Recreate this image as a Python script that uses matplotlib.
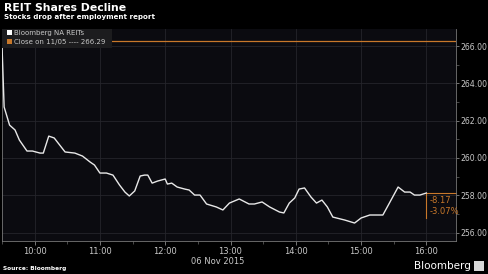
import matplotlib.pyplot as plt
from matplotlib.ticker import MultipleLocator, FixedLocator
from matplotlib.patches import Rectangle

# Intraday readings, 06 Nov 2015
times = ['09:30', '09:32', '09:37', '09:42', '09:46', '09:53', '09:58', '10:05',
         '10:08', '10:13', '10:18', '10:28', '10:37', '10:44', '10:51', '10:55',
         '11:00', '11:06', '11:12', '11:18', '11:23', '11:27', '11:32', '11:37',
         '11:41', '11:44', '11:48', '11:53', '12:00', '12:02', '12:06', '12:11',
         '12:18', '12:22', '12:27', '12:32', '12:38', '12:47', '12:53', '12:59',
         '13:08', '13:17', '13:22', '13:29', '13:36', '13:45', '13:49', '13:54',
         '13:59', '14:03', '14:08', '14:14', '14:19', '14:24', '14:29', '14:34',
         '14:45', '14:54', '15:00', '15:08', '15:20', '15:26', '15:34', '15:40',
         '15:45', '15:49', '15:54', '16:00']
values = [266.10, 262.73, 261.76, 261.50, 260.96, 260.37, 260.37, 260.26,
          260.26, 261.17, 261.07, 260.32, 260.26, 260.10, 259.78, 259.62,
          259.19, 259.19, 259.08, 258.55, 258.17, 257.96, 258.23, 259.03,
          259.08, 259.08, 258.65, 258.76, 258.87, 258.60, 258.65, 258.44,
          258.33, 258.28, 258.01, 258.01, 257.53, 257.37, 257.21, 257.58,
          257.80, 257.53, 257.53, 257.64, 257.37, 257.10, 257.05, 257.58,
          257.85, 258.33, 258.39, 257.90, 257.58, 257.74, 257.37, 256.83,
          256.67, 256.51, 256.78, 256.94, 256.94, 257.58, 258.44, 258.17,
          258.17, 258.01, 258.01, 258.12]
prev_close = 266.29
hour_labels = ['10:00', '11:00', '12:00', '13:00', '14:00', '15:00', '16:00']


def to_minutes(t):
    # minutes after the 09:30 open
    h, m = t.split(':')
    return (int(h) - 9) * 60 + int(m) - 30


x = [to_minutes(t) for t in times]
hour_pos = [to_minutes(t) for t in hour_labels]
last = values[-1]
change = last - prev_close
pct = change / prev_close * 100

orange = '#c8782a'
grey = '#c8c8c8'

fig = plt.figure(figsize=(4.88, 2.74), dpi=100, facecolor='black')
ax = fig.add_axes([0.004, 0.120, 0.930, 0.774])
ax.set_facecolor('#0b0b10')

ax.plot(x, values, color='#e8e8e8', lw=1.0, zorder=3)
ax.axhline(prev_close, color=orange, lw=0.9, zorder=2)

ax.set_xlim(0, 417)
ax.set_ylim(255.54, 266.91)

# ticks
ax.xaxis.set_major_locator(FixedLocator(hour_pos))
ax.set_xticklabels(hour_labels)
ax.xaxis.set_minor_locator(MultipleLocator(30))
ax.yaxis.set_major_locator(MultipleLocator(2))
ax.yaxis.set_minor_locator(MultipleLocator(1))
ax.yaxis.tick_right()
ax.yaxis.set_major_formatter(lambda v, p: '%.2f' % v)
ax.tick_params(axis='both', colors='#888888', labelcolor=grey, labelsize=6,
               length=3, width=0.6, pad=1)
ax.tick_params(axis='y', labelsize=5.6, length=2.5, pad=0.8)
ax.tick_params(axis='both', which='minor', colors='#666666', length=2, width=0.5)

ax.grid(True, which='major', color='#25252b', lw=0.6)
ax.spines['top'].set_visible(False)
for s in ['left', 'right', 'bottom']:
    ax.spines[s].set_color('#777777')
    ax.spines[s].set_linewidth(0.6)

# last value tag
ax.plot([390, 390, 417], [last - 1.35, last, last], color=orange, lw=0.8,
        zorder=2, clip_on=False)
ax.text(392.5, last - 0.15, '%.2f' % change, color=orange, fontsize=6,
        va='top', ha='left')
ax.text(392.5, last - 0.75, '%.2f%%' % pct, color=orange, fontsize=6,
        va='top', ha='left')

# legend box
ax.add_patch(Rectangle((0, 0.912), 0.243, 0.088, transform=ax.transAxes,
                       facecolor='#1c1c1e', edgecolor='none', zorder=4))
ax.add_patch(Rectangle((0.011, 0.970), 0.011, 0.024, transform=ax.transAxes,
                       facecolor='white', zorder=5))
ax.add_patch(Rectangle((0.011, 0.928), 0.011, 0.024, transform=ax.transAxes,
                       facecolor=orange, zorder=5))
ax.text(0.026, 0.981, 'Bloomberg NA REITs', transform=ax.transAxes,
        color=grey, fontsize=5, va='center', zorder=5)
ax.text(0.026, 0.939, 'Close on 11/05 ---- %.2f' % prev_close,
        transform=ax.transAxes, color=grey, fontsize=5, va='center', zorder=5)

# titles and footer
fig.text(0.008, 0.972, 'REIT Shares Decline', color='white', fontsize=7.8,
         fontweight='bold', va='center')
fig.text(0.008, 0.937, 'Stocks drop after employment report', color='white',
         fontsize=5.1, fontweight='bold', va='center')
fig.text(0.447, 0.047, '06 Nov 2015', color=grey, fontsize=6, ha='center',
         va='center')
fig.text(0.006, 0.020, 'Source: Bloomberg', color='white', fontsize=4.2,
         fontweight='bold', va='center')
fig.text(0.965, 0.028, 'Bloomberg', color='white', fontsize=7.5, ha='right',
         va='center')
fig.patches.append(Rectangle((0.972, 0.010), 0.020, 0.036,
                             transform=fig.transFigure, facecolor='#d8d8d8',
                             edgecolor='none'))

fig.savefig('out.png', dpi=100, facecolor='black')
